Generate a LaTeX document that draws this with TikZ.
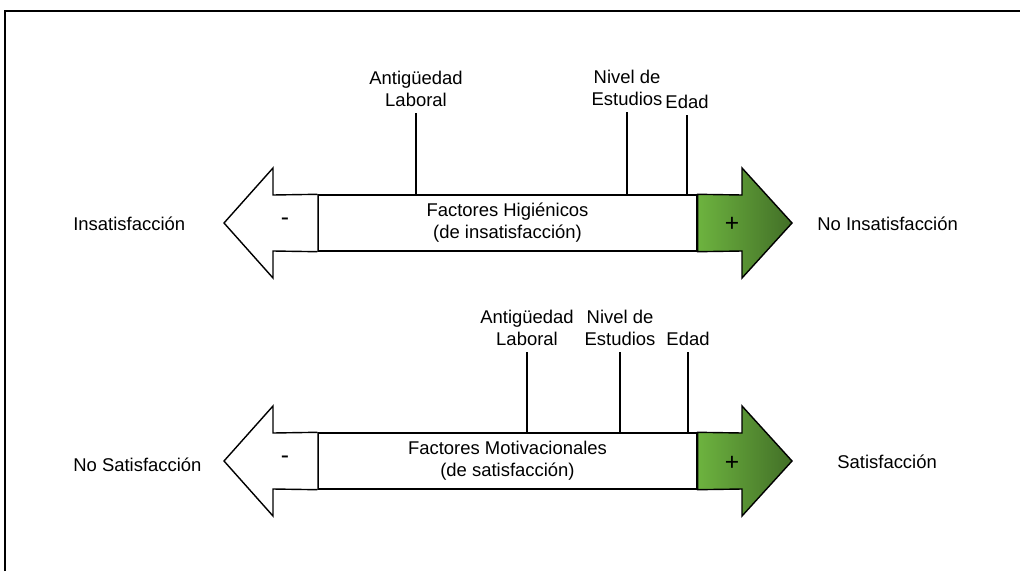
\documentclass[tikz,border=0pt]{standalone}
\usepackage{fontspec}
\setmainfont{Liberation Sans}
\usetikzlibrary{positioning}
\definecolor{lightgreen}{HTML}{6DB33F}
\definecolor{darkgreen}{HTML}{426F27}

\begin{document}
\begin{tikzpicture}[x=0.02cm,y=-0.02cm,font=\fontsize{10.5}{12.5}\selectfont,
    outline/.style={draw,line width=0.8pt,line join=miter},
    factorbox/.style={outline,fill=white,minimum width=7.58cm,minimum height=1.12cm,align=center,inner sep=0pt},
    greenhead/.style={outline,left color=lightgreen,right color=darkgreen},
    sign/.style={font=\fontsize{14}{14}\selectfont},
    side/.style={anchor=west,inner sep=0pt},
    tag/.style={align=center,inner sep=3.5pt},
    tick/.style={line width=0.8pt}]
      \useasboundingbox (0,0) rectangle (1020,571);
      \draw[line width=0.8pt] (5,571) -- (5,11) -- (1020,11);
      % upper arrow
      \node[factorbox] (boxA) at (507.5,223) {Factores Higiénicos\\(de insatisfacción)};
      \draw[outline,fill=white] (boxA.north west) -- (273,195) -- (273,168) -- (224,223) -- (273,278) -- (273,251) -- (boxA.south west);
      \draw[greenhead] (boxA.north east) -- (742,195) -- (742,168) -- (792,223) -- (742,278) -- (742,251) -- (boxA.south east) -- cycle;
      \node[sign] (minusA) at (285,222) {-};
      \node[sign] (plusA) at (732,224) {+};
      \node[side] (insat) at (73,224) {Insatisfacción};
      \node[side] (noinsat) at (817,224) {No Insatisfacción};
      \node[tag] (antA) at (416,89) {Antigüedad\\Laboral};
      \node[tag] (nivA) at (627,88) {Nivel de\\Estudios};
      \node[tag] (edadA) at (687,102) {Edad};
      \draw[tick] (antA.south) -- (antA.south |- boxA.north);
      \draw[tick] (nivA.south) -- (nivA.south |- boxA.north);
      \draw[tick] (edadA.south) -- (edadA.south |- boxA.north);
      % lower arrow
      \node[factorbox] (boxB) at (507.5,461) {Factores Motivacionales\\(de satisfacción)};
      \draw[outline,fill=white] (boxB.north west) -- (273,433) -- (273,406) -- (224,461) -- (273,516) -- (273,489) -- (boxB.south west);
      \draw[greenhead] (boxB.north east) -- (742,433) -- (742,406) -- (792,461) -- (742,516) -- (742,489) -- (boxB.south east) -- cycle;
      \node[sign] (minusB) at (285,460) {-};
      \node[sign] (plusB) at (732,463) {+};
      \node[side] (nosat) at (73,465) {No Satisfacción};
      \node[side] (sat) at (837,462) {Satisfacción};
      \node[tag] (antB) at (527,328) {Antigüedad\\Laboral};
      \node[tag] (nivB) at (620,328) {Nivel de\\Estudios};
      \node[tag] (edadB) at (688,339) {Edad};
      \draw[tick] (antB.south) -- (antB.south |- boxB.north);
      \draw[tick] (nivB.south) -- (nivB.south |- boxB.north);
      \draw[tick] (edadB.south) -- (edadB.south |- boxB.north);
    \end{tikzpicture}
\end{document}
